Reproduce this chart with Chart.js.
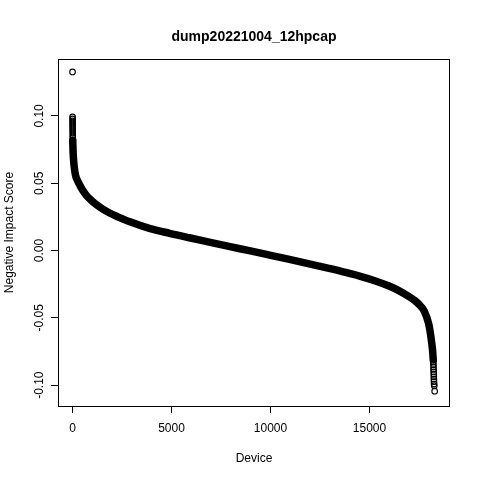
<!DOCTYPE html>
<html>
<head>
<meta charset="utf-8">
<script src="https://cdn.jsdelivr.net/npm/chart.js@4"></script>
<style>
  html, body { margin: 0; padding: 0; background: #fff; }
</style>
</head>
<body>
<canvas id="plot" width="480" height="480"></canvas>
<script>
// Sorted scores: the dense middle of the cloud (device index, score)
const bandX = [12, 25, 50, 86, 150, 253, 350, 505, 700, 929, 1200, 1515, 1900, 2300, 2864,
  3879, 4900, 5900, 6904, 7900, 8924, 9900, 10900, 11900, 12900, 13720, 14500, 15300,
  15990, 16500, 16995, 17300, 17500, 17763, 17980, 18100, 18182, 18220];
const bandY = [0.082, 0.075, 0.068, 0.0623, 0.056, 0.0520, 0.049, 0.045, 0.041, 0.0376, 0.0342,
  0.0310, 0.0277, 0.0250, 0.0215, 0.0165, 0.0128, 0.0095, 0.0063, 0.0031, -0.0001, -0.0032,
  -0.0064, -0.0097, -0.0131, -0.0160, -0.0190, -0.0226, -0.0264, -0.0300, -0.0342, -0.0373,
  -0.0400, -0.0450, -0.054, -0.064, -0.0738, -0.0813];

// circles that stand apart at both ends
const tailX = [1, 2, 3, 4, 5, 6, 7, 8, 9, 10, 11, 12,
  18224, 18228, 18232, 18236, 18240, 18244, 18248, 18252, 18256, 18262, 18270, 18290];
const tailY = [0.1327, 0.0993, 0.0978, 0.0963, 0.0948, 0.0933, 0.0918, 0.0903, 0.0888, 0.0873, 0.0858, 0.0843,
  -0.0830, -0.0848, -0.0866, -0.0884, -0.0902, -0.0920, -0.0938, -0.0956, -0.0974, -0.0992, -0.1005, -0.1045];

const xTicks = [0, 5000, 10000, 15000];
const yTicks = [-0.10, -0.05, 0.00, 0.05, 0.10];

const FONT = "'Liberation Sans', Arial, Helvetica, sans-serif";

// R style frame, title and rotated y labels
const rFrame = {
    id: 'rFrame',
    afterDraw(chart) {
        const { ctx, chartArea: a, scales } = chart;
        ctx.save();
        ctx.strokeStyle = '#000';
        ctx.lineWidth = 1;
        ctx.strokeRect(a.left + 0.5, a.top + 0.5, a.right - a.left - 1, a.bottom - a.top);

        ctx.fillStyle = '#000';
        ctx.font = 'bold 14px ' + FONT;
        ctx.textAlign = 'center';
        ctx.textBaseline = 'middle';
        ctx.fillText('dump20221004_12hpcap', (a.left + a.right) / 2, 37);

        ctx.font = '12px ' + FONT;
        yTicks.forEach(v => {
            const py = scales.y.getPixelForValue(v);
            ctx.save();
            ctx.translate(39.5, py);
            ctx.rotate(-Math.PI / 2);
            ctx.fillText(v.toFixed(2), 0, 0);
            ctx.restore();
        });
        ctx.restore();
    }
};

new Chart(document.getElementById('plot'), {
    type: 'scatter',
    data: {
        datasets: [
            {
                label: 'band',
                data: bandX.map((x, i) => ({ x: x, y: bandY[i] })),
                showLine: true,
                borderColor: '#000',
                borderWidth: 7.5,
                borderCapStyle: 'round',
                borderJoinStyle: 'round',
                cubicInterpolationMode: 'monotone',
                pointRadius: 0,
                pointHoverRadius: 0
            },
            {
                label: 'tails',
                data: tailX.map((x, i) => ({ x: x, y: tailY[i] })),
                pointStyle: 'circle',
                pointRadius: 2.8,
                borderWidth: 1.1,
                borderColor: '#000',
                backgroundColor: 'rgba(0,0,0,0)'
            }
        ]
    },
    options: {
        responsive: false,
        animation: false,
        events: [],
        layout: { padding: { top: 59, right: 30, left: 0, bottom: 0 } },
        plugins: {
            legend: { display: false },
            title: { display: false },
            tooltip: { enabled: false }
        },
        scales: {
            x: {
                type: 'linear',
                min: -733,
                max: 19065,
                afterBuildTicks: axis => { axis.ticks = xTicks.map(v => ({ value: v })); },
                afterFit: axis => { axis.height = 74; },
                border: { display: false },
                grid: { drawOnChartArea: false, drawTicks: true, tickLength: 7, tickColor: '#000' },
                ticks: {
                    color: '#000',
                    font: { family: FONT, size: 12 },
                    padding: 8,
                    maxRotation: 0,
                    callback: v => String(v)
                },
                title: {
                    display: true,
                    text: 'Device',
                    color: '#000',
                    font: { family: FONT, size: 12 },
                    padding: { top: 0, bottom: 14 }
                }
            },
            y: {
                type: 'linear',
                min: -0.1155,
                max: 0.1423,
                afterBuildTicks: axis => { axis.ticks = yTicks.map(v => ({ value: v })); },
                afterFit: axis => { axis.width = 58; },
                border: { display: false },
                grid: { drawOnChartArea: false, drawTicks: true, tickLength: 7, tickColor: '#000' },
                ticks: { display: false },
                title: {
                    display: true,
                    text: 'Negative Impact Score',
                    color: '#000',
                    font: { family: FONT, size: 12 },
                    padding: { top: 2, bottom: 0 }
                }
            }
        }
    },
    plugins: [rFrame]
});
</script>
</body>
</html>
